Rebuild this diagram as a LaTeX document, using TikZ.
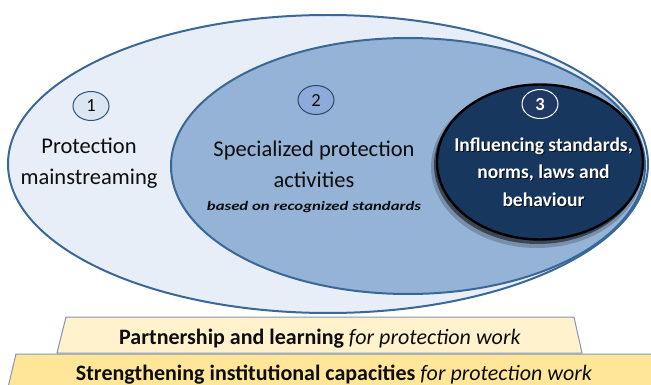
\documentclass[tikz,border=0pt]{standalone}
\usepackage{fontspec}
\setmainfont{Carlito}
\usetikzlibrary{shapes.geometric}
\definecolor{outerfill}{HTML}{E8EEF7}
\definecolor{midfill}{HTML}{95B3D7}
\definecolor{darkfill}{HTML}{17375E}
\definecolor{edgeblue}{HTML}{3A6896}
\definecolor{cOnefill}{HTML}{DCE6F2}
\definecolor{cTwofill}{HTML}{8EAADB}
\definecolor{cThreefill}{HTML}{1F3864}
\definecolor{trapone}{HTML}{FFF2CC}
\definecolor{traptwo}{HTML}{FFE699}
\definecolor{trapedge}{HTML}{8497B0}
\definecolor{txt}{HTML}{0D0D0D}
\tikzset{
  oval/.style={ellipse, inner sep=0pt, outer sep=0pt},
  numbadge/.style={ellipse, inner sep=0pt, minimum width=36pt, minimum height=29pt, line width=1pt, font=\fontsize{18.5}{20}\selectfont},
  bigtext/.style={align=center, text=txt, font=\fontsize{22.5}{31}\selectfont, inner sep=0pt},
  whitetext/.style={align=center, font=\bfseries\fontsize{19.5}{27.5}\selectfont, inner sep=0pt},
  traptext/.style={text=txt, font=\fontsize{22}{24}\selectfont, inner sep=0pt}
}
\begin{document}
\begin{tikzpicture}[x=1pt,y=-1pt]
\useasboundingbox (0,0) rectangle (651,385);
\clip (0,0) rectangle (651,385);
% ellipses
\node[oval, draw=edgeblue, line width=2pt, fill=outerfill, minimum width=640pt, minimum height=298pt] (outer) at (328,164) {};
\node[oval, draw=edgeblue, line width=2pt, fill=midfill, minimum width=474pt, minimum height=256pt] (mid) at (408,166) {};
% shadow of dark ellipse
\fill[black, opacity=0.2] (537,167) ellipse [x radius=106pt, y radius=81pt];
\fill[black, opacity=0.5] (538,165) ellipse [x radius=104pt, y radius=79pt];
\node[oval, draw=black, line width=2.4pt, fill=darkfill, minimum width=206pt, minimum height=155pt] (dark) at (540,162) {};
% badges
\node[numbadge, draw=edgeblue!80!black, fill=cOnefill, text=txt] (b1) at (91,106) {1};
\node[numbadge, draw=edgeblue!70!black, fill=cTwofill, text=txt] (b2) at (316,100) {2};
\node[numbadge, draw=white, fill=cThreefill, text=white, font=\bfseries\fontsize{18.5}{20}\selectfont] (b3) at (540,104) {3};
% texts
\node[bigtext] (t1) at (89,163) {Protection\\mainstreaming};
\node[bigtext] (t2) at (314,164) {Specialized protection\\activities};
\node[text=txt, inner sep=0pt, font=\bfseries\itshape\fontsize{13}{15}\selectfont] (t2b) at (314,207) {\resizebox{214pt}{\height}{based on recognized standards}};
\node[whitetext, text=black, opacity=0.7] (t3s) at (544.5,173) {Influencing standards,\\norms, laws and\\behaviour};
\node[whitetext, text=white] (t3) at (543.5,172) {Influencing standards,\\norms, laws and\\behaviour};
% foundation layers
\draw[draw=trapedge, line width=1pt, fill=traptwo] (16,354) -- (660,354) -- (660,400) -- (5,400) -- cycle;
\draw[draw=trapedge, line width=1pt, fill=trapone] (66,317) -- (574,317) -- (582,353) -- (57,353) -- cycle;
\node[traptext] (p1) at (320,339) {\textbf{Partnership and learning} \textit{for protection work}};
\node[traptext] (p2) at (334,375) {\textbf{Strengthening institutional capacities} \textit{for protection work}};
\end{tikzpicture}
\end{document}
